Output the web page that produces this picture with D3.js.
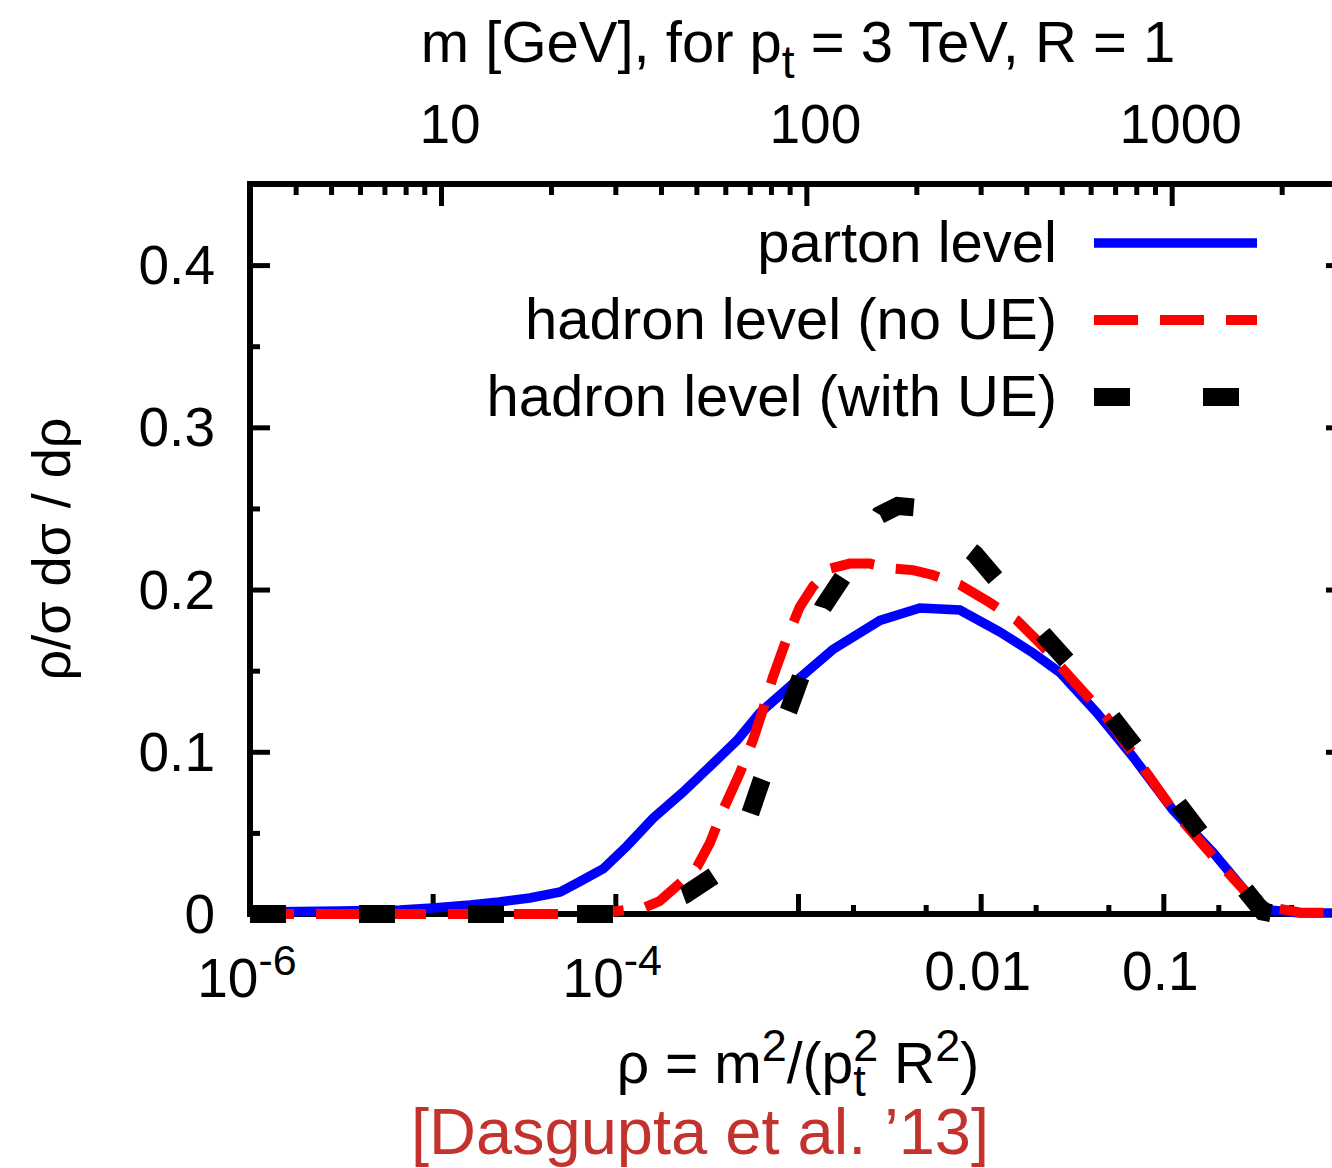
<!DOCTYPE html>
<html>
<head>
<meta charset="utf-8">
<script src="https://cdn.jsdelivr.net/npm/d3@7"></script>
<style>
  body { margin: 0; background: #fff; }
  svg text { font-family: "Liberation Sans", Arial, Helvetica, sans-serif; fill: #000; }
</style>
</head>
<body>
<div id="chart"></div>
<script>
// ---- data: rho and rho/sigma dsigma/drho ----
const partonRho = [1e-6, 3.1e-6, 6.6e-6, 1.0e-5, 1.6e-5, 2.3e-5, 3.4e-5, 5.0e-5, 6.4e-5, 8.6e-5,
                   1.16e-4, 1.61e-4, 2.34e-4, 3.30e-4, 4.63e-4, 6.18e-4, 9.4e-4, 1.55e-3, 2.81e-3, 4.65e-3,
                   7.69e-3, 1.27e-2, 1.93e-2, 2.71e-2, 4.33e-2, 6.81e-2, 0.113, 0.187, 0.286, 0.383, 0.558, 1.0];
const partonVal = [0.0012, 0.0018, 0.0025, 0.0037, 0.0055, 0.0074, 0.0099, 0.0136, 0.020, 0.028,
                   0.042, 0.059, 0.075, 0.091, 0.107, 0.124, 0.142, 0.163, 0.181, 0.1886,
                   0.1874, 0.174, 0.161, 0.149, 0.124, 0.097, 0.064, 0.038, 0.013, 0.0025, 0.0006, 0.0006];

const noUeRho = [1e-6, 8.2e-5, 1.06e-4, 1.42e-4, 1.75e-4, 2.26e-4, 2.80e-4, 3.30e-4, 3.88e-4, 4.81e-4,
                 5.66e-4, 6.43e-4, 7.29e-4, 8.69e-4, 1.02e-3, 1.21e-3, 1.50e-3, 1.92e-3, 2.47e-3, 3.30e-3,
                 4.26e-3, 5.47e-3, 7.69e-3, 1.12e-2, 1.58e-2, 2.11e-2, 3.20e-2, 4.91e-2, 7.43e-2, 0.113,
                 0.196, 0.286, 0.397, 0.558, 1.0];
const noUeVal = [0, 0, 0.002, 0.0037, 0.008, 0.019, 0.029, 0.044, 0.064, 0.087,
                 0.107, 0.126, 0.146, 0.170, 0.189, 0.202, 0.213, 0.216, 0.216, 0.213,
                 0.212, 0.209, 0.203, 0.192, 0.181, 0.167, 0.144, 0.121, 0.093, 0.064,
                 0.033, 0.013, 0.004, 0.001, 0.0006];

const withUeRho = [1e-6, 9.8e-5, 1.54e-4, 2.40e-4, 3.51e-4, 5.46e-4, 6.33e-4, 8.91e-4, 1.04e-3, 1.37e-3,
                   1.76e-3, 2.81e-3, 3.52e-3, 4.48e-3, 9.29e-3, 1.27e-2, 2.24e-2, 3.15e-2, 5.43e-2, 7.43e-2,
                   0.123, 0.169, 0.290, 0.35, 0.41, 1.0];
const withUeVal = [0, 0, 0.0037, 0.0117, 0.024, 0.0616, 0.0827, 0.1258, 0.1467, 0.1892,
                   0.2077, 0.2460, 0.2515, 0.2505, 0.2219, 0.2040, 0.1713, 0.1528, 0.1189, 0.0992,
                   0.0666, 0.0462, 0.0129, 0.0015, 0, 0];

const legendNames = ["parton level", "hadron level (no UE)", "hadron level (with UE)"];

// ticks
const rhoMajor = [1e-6, 1e-5, 1e-4, 1e-3, 1e-2, 1e-1];
const rhoMinor = [2e-3, 5e-3, 2e-2, 5e-2, 2e-1, 5e-1];
const rhoLabels = [[1e-6, "10", "-6"], [1e-4, "10", "-4"], [1e-2, "0.01", ""], [1e-1, "0.1", ""]];
const massMajor = [10, 100, 1000];
const massMinor = [4, 5, 6, 7, 8, 9, 20, 30, 40, 50, 60, 70, 80, 90,
                   200, 300, 400, 500, 600, 700, 800, 900, 2000];
const yMajor = [0, 0.1, 0.2, 0.3, 0.4];
const yMinor = [0.05, 0.15, 0.25, 0.35];

// jet kinematics for the top axis
const ptJet = 3000, Rjet = 1;

// ---- layout ----
const W = 1332, H = 1168;
const plot = {left: 250, right: 1346, top: 184, bottom: 914};

const svg = d3.select("#chart")
              .append("svg")
              .attr("width", W)
              .attr("height", H);

const x = d3.scaleLog().domain([1e-6, 1]).range([plot.left, plot.right]);
const y = d3.scaleLinear().domain([0, 0.45]).range([plot.bottom, plot.top]);
// m = pt R sqrt(rho)
const xm = d3.scaleLog()
             .domain([ptJet * Rjet * Math.sqrt(1e-6), ptJet * Rjet])
             .range([plot.left, plot.right]);

// frame
svg.append("rect")
   .attr("x", plot.left).attr("y", plot.top)
   .attr("width", plot.right - plot.left)
   .attr("height", plot.bottom - plot.top)
   .attr("fill", "none")
   .attr("stroke", "#000")
   .attr("stroke-width", 6);

// inward tick marks
function ticks(axis, pos, values, size) {
   svg.append("g")
      .attr("transform", pos)
      .call(axis.tickValues(values).tickSize(size).tickFormat(""))
      .call(g => g.select(".domain").remove())
      .selectAll("line")
      .attr("stroke", "#000")
      .attr("stroke-width", 5);
}
ticks(d3.axisBottom(x), `translate(0,${plot.bottom})`, rhoMajor, -20);
ticks(d3.axisBottom(x), `translate(0,${plot.bottom})`, rhoMinor, -9);
ticks(d3.axisTop(xm), `translate(0,${plot.top})`, massMajor, -22);
ticks(d3.axisTop(xm), `translate(0,${plot.top})`, massMinor, -11);
ticks(d3.axisLeft(y), `translate(${plot.left},0)`, yMajor, -20);
ticks(d3.axisLeft(y), `translate(${plot.left},0)`, yMinor, -10);
ticks(d3.axisRight(y), `translate(${plot.right},0)`, yMajor, -20);
ticks(d3.axisRight(y), `translate(${plot.right},0)`, yMinor, -10);

// tick labels
const fsTick = 55;
svg.append("g").selectAll("text")
   .data(yMajor)
   .join("text")
   .attr("x", 215)
   .attr("y", d => y(d) + 19)
   .attr("text-anchor", "end")
   .style("font-size", fsTick + "px")
   .text(d => d === 0 ? "0" : d3.format(".1f")(d));

svg.append("g").selectAll("text")
   .data(rhoLabels)
   .join("text")
   .attr("x", d => x(d[0]) - 3)
   .attr("y", d => d[2] ? 997 : 990)
   .attr("text-anchor", "middle")
   .style("font-size", fsTick + "px")
   .each(function(d) {
      const t = d3.select(this);
      t.append("tspan").text(d[1]);
      if (d[2]) t.append("tspan").attr("dy", -22).style("font-size", "43px").text(d[2]);
   });

svg.append("g").selectAll("text")
   .data(massMajor)
   .join("text")
   .attr("x", d => xm(d) + 9)
   .attr("y", 143)
   .attr("text-anchor", "middle")
   .style("font-size", fsTick + "px")
   .text(d => d);

// curves
const line = d3.line().x(d => x(d[0])).y(d => y(d[1]));
const series = [
   {name: legendNames[0], data: d3.zip(partonRho, partonVal), color: "#0000ff", width: 9.5, dash: null},
   {name: legendNames[1], data: d3.zip(noUeRho, noUeVal), color: "#ff0000", width: 10, dash: "44,22"},
   {name: legendNames[2], data: d3.zip(withUeRho, withUeVal), color: "#000000", width: 18, dash: "36,73"}
];

svg.append("g").selectAll("path")
   .data(series)
   .join("path")
   .attr("d", d => line(d.data))
   .attr("fill", "none")
   .attr("stroke", d => d.color)
   .attr("stroke-width", d => d.width)
   .attr("stroke-dasharray", d => d.dash)
   .attr("stroke-linejoin", "miter");

// legend
const fsText = 58;
const leg = svg.append("g").selectAll("g")
               .data(series)
               .join("g")
               .attr("transform", (d, i) => `translate(0,${262 + i * 77})`);
leg.append("text")
   .attr("x", 1057)
   .attr("text-anchor", "end")
   .style("font-size", fsText + "px")
   .text(d => d.name);
leg.append("line")
   .attr("x1", 1094).attr("x2", 1257)
   .attr("y1", -19).attr("y2", -19)
   .attr("stroke", d => d.color)
   .attr("stroke-width", d => d.width)
   .attr("stroke-dasharray", d => d.dash);

// top axis title
const x2title = svg.append("text")
                   .attr("x", (plot.left + plot.right) / 2)
                   .attr("y", 62)
                   .attr("text-anchor", "middle")
                   .style("font-size", fsText + "px");
x2title.append("tspan").text("m [GeV], for p");
x2title.append("tspan").attr("dy", 16).style("font-size", "46px").text("t");
x2title.append("tspan").attr("dy", -16).text(" = 3 TeV, R = 1");

// x label
const xl = svg.append("text")
              .attr("x", (plot.left + plot.right) / 2)
              .attr("y", 1083)
              .attr("text-anchor", "middle")
              .style("font-size", "57px");
xl.append("tspan").text("\u03c1 = m");
xl.append("tspan").attr("dy", -22).style("font-size", "45px").text("2");
xl.append("tspan").attr("dy", 22).text("/(p");
const sub = xl.append("tspan").attr("dy", 13).style("font-size", "45px").text("t");
xl.append("tspan").attr("dy", -35).attr("dx", -sub.node().getComputedTextLength())
  .style("font-size", "45px").text("2");
xl.append("tspan").attr("dy", 22).text(" R");
xl.append("tspan").attr("dy", -22).style("font-size", "45px").text("2");
xl.append("tspan").attr("dy", 22).text(")");

// y label
svg.append("text")
   .attr("transform", `translate(70,${(plot.top + plot.bottom) / 2}) rotate(-90)`)
   .attr("text-anchor", "middle")
   .style("font-size", "54px")
   .text("\u03c1/\u03c3 d\u03c3 / d\u03c1");

// citation
svg.append("text")
   .attr("x", 700)
   .attr("y", 1154)
   .attr("text-anchor", "middle")
   .style("font-size", "65px")
   .style("fill", "#c4322d")
   .text("[Dasgupta et al. \u201913]");
</script>
</body>
</html>
